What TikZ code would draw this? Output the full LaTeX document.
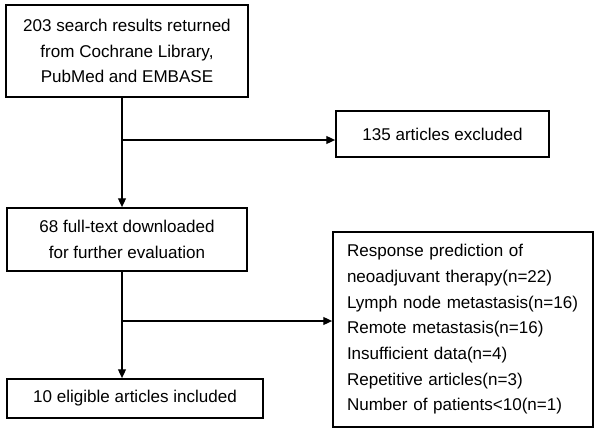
\documentclass[tikz,border=0pt]{standalone}
\usepackage{fontspec}
\setmainfont{Liberation Sans}
\usetikzlibrary{arrows.meta, positioning, calc}

\begin{document}
\begin{tikzpicture}[
            box/.style={rectangle, draw=black, line width=1pt, align=center, inner sep=0pt, font=\fontsize{9.7}{14.6}\selectfont},
            arr/.style={line width=0.75pt, -{Triangle[length=5pt, width=4.5pt]}}
        ]
            \useasboundingbox (0,0) rectangle (12,-8.66);

            \node[box, minimum width=4.84cm, minimum height=1.84cm] (search) at (2.54,-1.02) {203 search results returned\\from Cochrane Library,\\PubMed and EMBASE};
            \node[box, minimum width=4.26cm, minimum height=0.92cm] (excl) at (8.85,-2.68) {135 articles excluded};
            \node[box, minimum width=4.80cm, minimum height=1.26cm] (full) at (2.54,-4.79) {68 full-text downloaded\\for further evaluation};
            \node[box, minimum width=5.12cm, minimum height=0.78cm] (incl) at (2.70,-7.97) {10 eligible articles included};
            \node[box, align=left, text width=4.64cm, inner xsep=0.28cm, minimum height=3.9cm] (reasons) at (9.26,-6.59) {Response prediction of\\neoadjuvant therapy(n=22)\\Lymph node metastasis(n=16)\\Remote metastasis(n=16)\\Insufficient data(n=4)\\Repetitive articles(n=3)\\Number of patients<10(n=1)};

            \coordinate (j1) at (2.44,-2.80);
            \coordinate (j2) at (2.44,-6.42);

            \draw[arr] (j1 |- search.south) -- (j1 |- full.north);
            \draw[arr] (j1) -- (j1 -| excl.west);
            \draw[arr] (j2 |- full.south) -- (j2 |- incl.north);
            \draw[arr] (j2) -- (j2 -| reasons.west);
        \end{tikzpicture}
\end{document}
